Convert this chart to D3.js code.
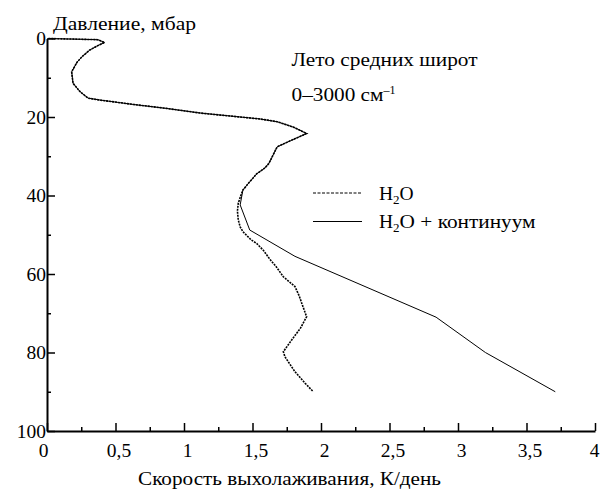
<!DOCTYPE html>
<html>
<head>
<meta charset="utf-8">
<script src="https://cdn.jsdelivr.net/npm/d3@7"></script>
<style>
  html, body { margin: 0; padding: 0; background: #fff; }
  svg { display: block; }
  text { font-family: "Liberation Serif", "Times New Roman", serif; fill: #000; }
</style>
</head>
<body>
<svg id="chart" width="600" height="490"></svg>
<script>
// Cooling rate profiles, mid-latitude summer, 0–3000 cm^-1
const h2oPressure = [0, 0.3, 1.0, 2.0, 3.0, 4.5, 6, 8.5, 11.4, 13.5, 15.2, 15.7, 16.8, 17.8, 19,
  20.5, 21.2, 22.6, 24.2, 26, 27.6, 29.7, 31.8, 33, 34.5, 36.5, 38.6, 40.5, 42, 44, 46.2, 48,
  49.2, 51.3, 52.2, 54, 56.4, 58, 60.7, 63.2, 65.5, 67.5, 70.9, 73.8, 76.8, 79.8, 81.1, 84.9,
  87.8, 90];
const h2oRate = [0.01, 0.37, 0.42, 0.36, 0.31, 0.26, 0.22, 0.18, 0.19, 0.24, 0.30, 0.39, 0.63,
  0.87, 1.12, 1.555, 1.68, 1.80, 1.895, 1.78, 1.68, 1.65, 1.62, 1.59, 1.53, 1.48, 1.43, 1.41,
  1.396, 1.39, 1.396, 1.41, 1.43, 1.49, 1.53, 1.58, 1.63, 1.67, 1.725, 1.81, 1.84, 1.86, 1.895,
  1.85, 1.786, 1.725, 1.737, 1.81, 1.883, 1.944];

const contPressure = [0, 0.3, 1.0, 2.0, 3.0, 4.5, 6, 8.5, 11.4, 13.5, 15.2, 15.7, 16.8, 17.8, 19,
  20.5, 21.2, 22.6, 24.2, 26, 27.6, 29.7, 31.8, 33, 34.5, 36.5, 38.6, 42.4, 48.8, 55.5, 71, 80, 90];
const contRate = [0.01, 0.37, 0.42, 0.36, 0.31, 0.26, 0.22, 0.18, 0.19, 0.24, 0.30, 0.39, 0.63,
  0.87, 1.12, 1.555, 1.68, 1.80, 1.895, 1.78, 1.68, 1.65, 1.62, 1.59, 1.53, 1.48, 1.43, 1.41,
  1.48, 1.81, 2.84, 3.2, 3.71];

const xTicks = [0, 0.5, 1, 1.5, 2, 2.5, 3, 3.5, 4];
const xMinorTicks = [0.25, 0.75, 1.25, 1.75, 2.25, 2.75, 3.25, 3.75];
const yTicks = [0, 20, 40, 60, 80, 100];
const yMinorTicks = [10, 30, 50, 70, 90];

const svg = d3.select("#chart");
const x = d3.scaleLinear().domain([0, 4]).range([47, 595]);
const y = d3.scaleLinear().domain([0, 100]).range([38.5, 431]);
const fmt = d => String(d).replace(".", ",");
const FS = 18.5;

// text stretched to a fixed width, as in the typeset figure
function label(xp, yp, width) {
  return svg.append("text").attr("x", xp).attr("y", yp).attr("font-size", FS)
    .attr("textLength", width).attr("lengthAdjust", "spacingAndGlyphs");
}

// minor ticks
svg.append("g").attr("transform", `translate(0,${y(100)})`)
  .call(d3.axisBottom(x).tickValues(xMinorTicks).tickSize(-4).tickFormat(""))
  .call(g => g.select(".domain").remove())
  .call(g => g.selectAll("line").attr("stroke-width", 1.5));
svg.append("g").attr("transform", `translate(${x(0)},0)`)
  .call(d3.axisLeft(y).tickValues(yMinorTicks).tickSize(-4).tickFormat(""))
  .call(g => g.select(".domain").remove())
  .call(g => g.selectAll("line").attr("stroke-width", 1.5));

// major axes
svg.append("g").attr("transform", `translate(0,${y(100)})`)
  .call(d3.axisBottom(x).tickValues(xTicks).tickSize(-8).tickSizeOuter(0).tickPadding(12.5).tickFormat(fmt))
  .call(g => g.select(".domain").attr("stroke-width", 2))
  .call(g => g.selectAll("line").attr("stroke-width", 1.5))
  .call(g => g.selectAll("text").attr("font-size", 19.5).attr("font-family", null)
    .attr("dx", d => d === 4 ? -1 : (d === 0 ? -4 : 3)));
svg.append("g").attr("transform", `translate(${x(0)},0)`)
  .call(d3.axisLeft(y).tickValues(yTicks).tickSize(-8).tickSizeOuter(0).tickPadding(0).tickFormat(d => d))
  .call(g => g.select(".domain").attr("stroke-width", 2))
  .call(g => g.selectAll("line").attr("stroke-width", 1.5))
  .call(g => g.selectAll("text").attr("font-size", 19.5).attr("font-family", null).attr("dx", -1));

// profile lines
const line = d3.line().x(d => x(d[1])).y(d => y(d[0]));
const h2o = h2oPressure.map((p, i) => [p, h2oRate[i]]);
const cont = contPressure.map((p, i) => [p, contRate[i]]);

svg.append("path").datum(cont).attr("d", line)
  .attr("fill", "none").attr("stroke", "#000").attr("stroke-width", 1);
svg.append("path").datum(h2o).attr("d", line)
  .attr("fill", "none").attr("stroke", "#000").attr("stroke-width", 1.6)
  .attr("stroke-dasharray", "2,1");

// axis titles
label(53, 30, 143).text("Давление, мбар");
label(138, 485, 303).text("Скорость выхолаживания, К/день");

// annotations
label(291.5, 66, 186).text("Лето средних широт");
const t2 = svg.append("text").attr("x", 291.5).attr("y", 101).attr("font-size", FS);
t2.append("tspan").attr("textLength", 92).attr("lengthAdjust", "spacingAndGlyphs").text("0–3000 см");
t2.append("tspan").attr("font-size", 12).attr("dy", -7).text("–1");

// legend
const LFS = 19.5;
const legend = svg.append("g");
legend.append("line").attr("x1", 313).attr("x2", 362).attr("y1", 193).attr("y2", 193)
  .attr("stroke", "#000").attr("stroke-width", 1).attr("stroke-dasharray", "3,1.5");
const l1 = legend.append("text").attr("x", 379).attr("y", 199.5).attr("font-size", LFS);
l1.append("tspan").text("H");
l1.append("tspan").attr("font-size", 13).attr("dy", 4).text("2");
l1.append("tspan").attr("dy", -4).text("O");
legend.append("line").attr("x1", 313).attr("x2", 362).attr("y1", 221.5).attr("y2", 221.5)
  .attr("stroke", "#000").attr("stroke-width", 1);
const l2 = legend.append("text").attr("x", 379).attr("y", 227.5).attr("font-size", LFS);
l2.append("tspan").text("H");
l2.append("tspan").attr("font-size", 13).attr("dy", 4).text("2");
l2.append("tspan").attr("dy", -4).attr("textLength", 136).attr("lengthAdjust", "spacingAndGlyphs")
  .text("O + континуум");
</script>
</body>
</html>
